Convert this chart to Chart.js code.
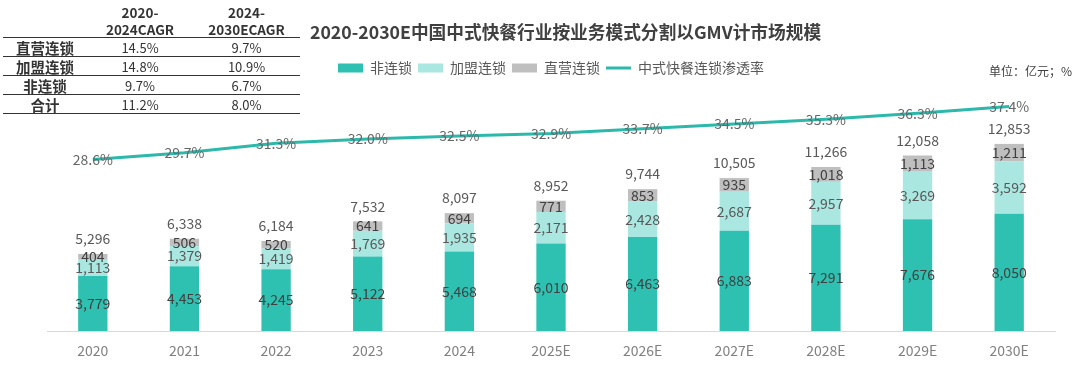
<!DOCTYPE html>
<html>
<head>
<meta charset="utf-8">
<script src="https://cdn.jsdelivr.net/npm/chart.js@4.4.1/dist/chart.umd.min.js"></script>
<style>
  html, body { margin: 0; padding: 0; background: #fff; }
  #wrap { position: relative; width: 1080px; height: 365px; font-family: "Noto Sans CJK SC", "Noto Sans", sans-serif; }
  #chart { position: absolute; left: 0; top: 0; }
  #title { position: absolute; left: 310px; top: 19px; font-size: 17.7px; font-weight: bold; color: #404040; white-space: nowrap; line-height: 24px; }
  #unit { position: absolute; left: 989px; top: 63px; font-size: 12px; color: #404040; white-space: nowrap; line-height: 16px; }
  #cagr { position: absolute; left: 3px; top: 0; border-collapse: collapse; color: #333; }
  #cagr th { font-size: 13.5px; font-weight: bold; line-height: 16.5px; height: 33px; padding: 4px 0 0 0; text-align: center; vertical-align: middle; border-bottom: 1.5px solid #333; }
  #cagr td { font-size: 13px; height: 18px; line-height: 17px; padding: 0; text-align: center; border-bottom: 1.5px solid #333; }
  #cagr td.lab { font-size: 14.5px; font-weight: bold; }
</style>
</head>
<body>
<div id="wrap">
  <canvas id="chart" width="1080" height="365"></canvas>
  <div id="title">2020-2030E中国中式快餐行业按业务模式分割以GMV计市场规模</div>
  <div id="unit">单位：亿元；%</div>
  <table id="cagr">
    <tr><th style="width:84px"></th><th style="width:106px">2020-<br>2024CAGR</th><th style="width:107px">2024-<br>2030ECAGR</th></tr>
  </table>
</div>
<script>
const years = ["2020", "2021", "2022", "2023", "2024", "2025E", "2026E", "2027E", "2028E", "2029E", "2030E"];
const nonChain = [3779, 4453, 4245, 5122, 5468, 6010, 6463, 6883, 7291, 7676, 8050];
const franchise = [1113, 1379, 1419, 1769, 1935, 2171, 2428, 2687, 2957, 3269, 3592];
const direct = [404, 506, 520, 641, 694, 771, 853, 935, 1018, 1113, 1211];
const totals = [5296, 6338, 6184, 7532, 8097, 8952, 9744, 10505, 11266, 12058, 12853];
const chainRate = [28.6, 29.7, 31.3, 32.0, 32.5, 32.9, 33.7, 34.5, 35.3, 36.3, 37.4];

// CAGR table (top left)
const cagrRows = ["直营连锁", "加盟连锁", "非连锁", "合计"];
const cagr2024 = ["14.5%", "14.8%", "9.7%", "11.2%"];
const cagr2030 = ["9.7%", "10.9%", "6.7%", "8.0%"];

const table = document.getElementById("cagr");
cagrRows.forEach((name, i) => {
  const tr = document.createElement("tr");
  tr.innerHTML = '<td class="lab">' + name + '</td><td>' + cagr2024[i] + '</td><td>' + cagr2030[i] + '</td>';
  table.appendChild(tr);
});

const colNon = "#2ec0b1";
const colFran = "#a9e7e0";
const colDirect = "#bfbfbf";
const colLine = "#2cb8aa";

const fmt = (v) => v.toLocaleString("en-US");

// labels inside / above the bars and on the line
const valueLabels = {
  id: "valueLabels",
  afterDatasetsDraw(chart) {
    const ctx = chart.ctx;
    ctx.save();
    ctx.textAlign = "center";
    ctx.textBaseline = "middle";
    ctx.font = '14px "Noto Sans CJK SC", "Noto Sans", sans-serif';
    [0, 1, 2].forEach(di => {
      const meta = chart.getDatasetMeta(di);
      ctx.fillStyle = di === 1 ? "#595959" : "#404040";
      meta.data.forEach((bar, i) => {
        const v = chart.data.datasets[di].data[i];
        ctx.fillText(fmt(v), bar.x, (bar.y + bar.base) / 2);
      });
    });
    // totals above the stack
    const top = chart.getDatasetMeta(2);
    ctx.fillStyle = "#595959";
    top.data.forEach((bar, i) => {
      ctx.fillText(fmt(totals[i]), bar.x, bar.y - 15);
    });
    // rate labels centred on the points
    const line = chart.getDatasetMeta(3);
    ctx.fillStyle = "#666666";
    line.data.forEach((pt, i) => {
      ctx.fillText(chainRate[i].toFixed(1) + "%", pt.x, pt.y);
    });
    ctx.restore();
  }
};

Chart.defaults.font.family = '"Noto Sans CJK SC", "Noto Sans", sans-serif';

const chart = new Chart(document.getElementById("chart"), {
  type: "bar",
  data: {
    labels: years,
    datasets: [
      { label: "非连锁", data: nonChain, backgroundColor: colNon, stack: "s", yAxisID: "y" },
      { label: "加盟连锁", data: franchise, backgroundColor: colFran, stack: "s", yAxisID: "y" },
      { label: "直营连锁", data: direct, backgroundColor: colDirect, stack: "s", yAxisID: "y" },
      { type: "line", label: "中式快餐连锁渗透率", data: chainRate, borderColor: colLine, backgroundColor: colLine,
        borderWidth: 3, pointRadius: 0, tension: 0, yAxisID: "y1" }
    ]
  },
  options: {
    responsive: false,
    animation: false,
    devicePixelRatio: 1,
    barPercentage: 0.32,
    categoryPercentage: 1,
    layout: { padding: { top: 55, left: 47, right: 25, bottom: 0 } },
    plugins: {
      tooltip: { enabled: false },
      legend: {
        position: "top",
        fullSize: false,
        labels: {
          usePointStyle: true,
          pointStyleWidth: 25,
          boxHeight: 9,
          padding: 6,
          color: "#595959",
          font: { size: 14 },
          generateLabels(c) {
            const items = Chart.defaults.plugins.legend.labels.generateLabels(c);
            items.forEach(it => {
              const ds = c.data.datasets[it.datasetIndex];
              it.pointStyle = ds.type === "line" ? "line" : "rect";
            });
            return items;
          }
        }
      }
    },
    scales: {
      x: {
        stacked: true,
        grid: { display: false, drawTicks: false },
        border: { display: true, color: "#d9d9d9", width: 1 },
        ticks: { color: "#808080", font: { size: 14 }, padding: 11 },
        afterFit(scale) { scale.height = 34; }
      },
      y: { stacked: true, display: false, min: 0, max: 16900 },
      y1: { display: false, min: 0, max: 41, position: "right" }
    }
  },
  plugins: [valueLabels]
});
</script>
</body>
</html>
